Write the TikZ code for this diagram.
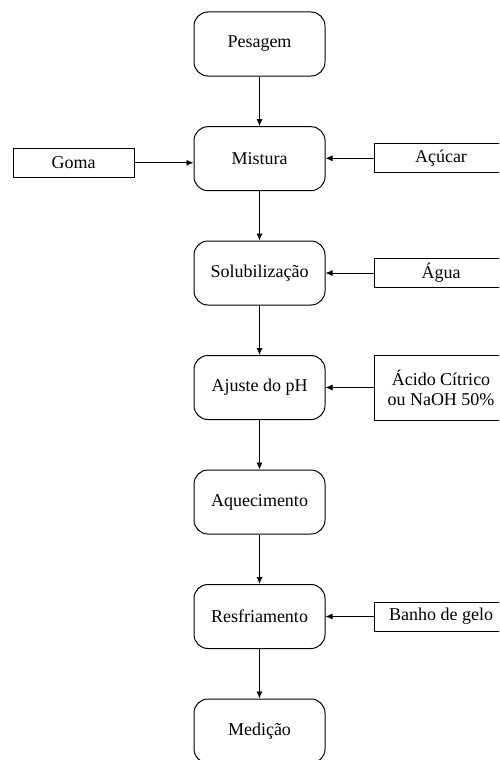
\documentclass[tikz,border=0pt]{standalone}
\usepackage{fontspec}
\setmainfont{Liberation Serif}
\usetikzlibrary{arrows.meta}
\begin{document}
\begin{tikzpicture}[x=1pt,y=-1pt,
  every node/.style={font=\fontsize{18}{20}\selectfont},
  mainbox/.style={draw, line width=1pt, rounded corners=14pt, minimum width=131pt, minimum height=64pt, inner sep=0pt, align=center},
  sidebox/.style={draw, line width=0.9pt, minimum width=134pt, minimum height=29pt, inner sep=0pt, align=center},
  conn/.style={line width=0.9pt, -{Latex[length=7pt,width=6pt]}}]
\useasboundingbox (0,0) rectangle (499,760);
\clip (0,0) rectangle (499,760);
\node[mainbox] (pes) at (259.5,44) {Pesagem};
\node[mainbox] (mis) at (259.5,158.7) {Mistura};
\node[mainbox] (sol) at (259.5,273) {Solubilização};
\node[mainbox] (aju) at (259.5,387.5) {Ajuste do pH};
\node[mainbox] (aqu) at (259.5,502) {Aquecimento};
\node[mainbox] (res) at (259.5,616.5) {Resfriamento};
\node[mainbox] (med) at (259.5,731) {Medição};
\node[sidebox, minimum width=121pt] (gom) at (73.5,162.8) {Goma};
\node[sidebox] (acu) at (441,158.3) {Açúcar};
\node[sidebox] (agu) at (441,273) {Água};
\node[sidebox, minimum height=65pt] (aci) at (441,387.5) {Ácido Cítrico\\ou NaOH 50\%};
\node[sidebox] (ban) at (441,616.5) {Banho de gelo};
\draw[conn] (pes) -- (mis);
\draw[conn] (mis) -- (sol);
\draw[conn] (sol) -- (aju);
\draw[conn] (aju) -- (aqu);
\draw[conn] (aqu) -- (res);
\draw[conn] (res) -- (med);
\draw[conn] (gom.east) -- (mis.west |- gom.east);
\draw[conn] (acu.west) -- (mis.east |- acu.west);
\draw[conn] (agu.west) -- (sol.east |- agu.west);
\draw[conn] (aci.west) -- (aju.east |- aci.west);
\draw[conn] (ban.west) -- (res.east |- ban.west);
\end{tikzpicture}
\end{document}
